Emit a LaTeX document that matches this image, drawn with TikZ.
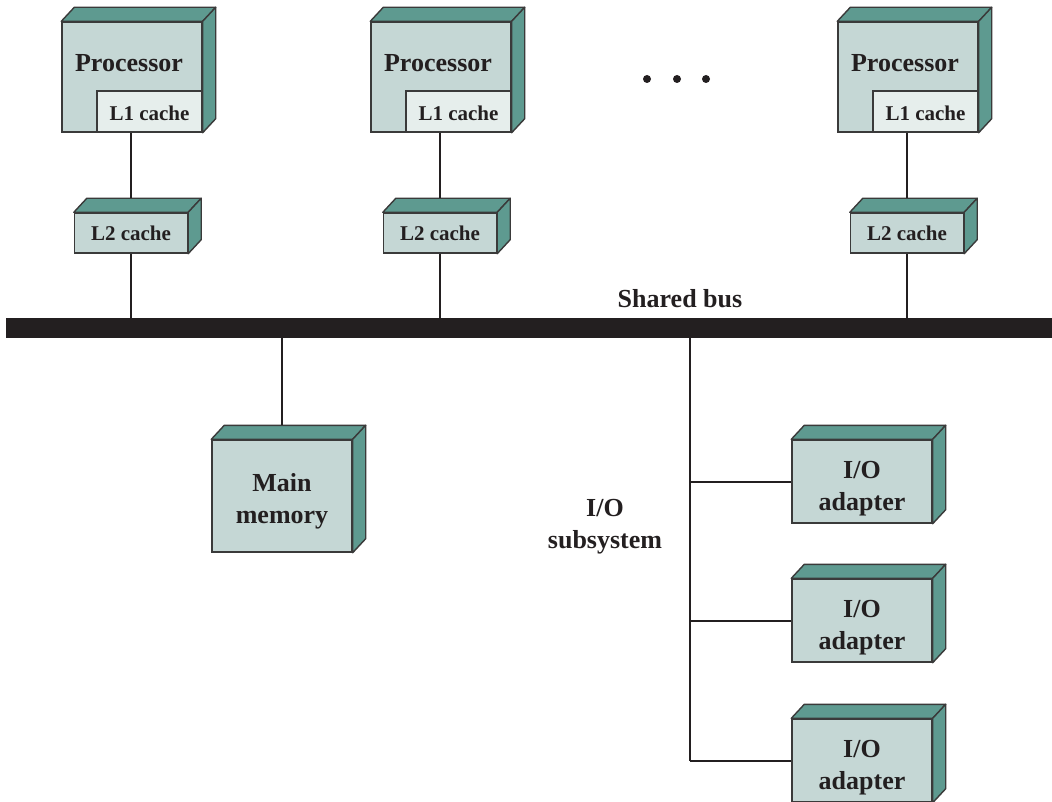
\documentclass[tikz,border=0pt]{standalone}
\usepackage{fontspec}
\setmainfont{Liberation Serif}
\usetikzlibrary{calc}
\definecolor{frontc}{HTML}{C5D7D5}
\definecolor{sidec}{HTML}{5E9A90}
\definecolor{lonec}{HTML}{E6EEEC}
\definecolor{edgec}{HTML}{3A3A3A}
\definecolor{linec}{HTML}{231F20}
\tikzset{
  face/.style={draw=edgec, line width=1.4pt, fill=frontc, inner sep=0pt},
  sidef/.style={draw=edgec, line width=1.4pt, fill=sidec, line join=round},
  lone/.style={draw=edgec, line width=1.4pt, fill=lonec, inner sep=0pt},
  link/.style={line width=2pt, draw=linec},
  big/.style={font=\bfseries\fontsize{26}{32}\selectfont, align=center, text=linec},
  small/.style={font=\bfseries\fontsize{21}{25}\selectfont, text=linec},
  busbar/.style={fill=linec, inner sep=0pt, minimum width=1046pt, minimum height=20pt},
  dotc/.style={circle, fill=linec, inner sep=0pt, minimum size=8pt},
}
\newcommand{\cubebox}[8]{% name, cx, cy, w, h, text, text style, text shift
  \node[face, minimum width=#4pt, minimum height=#5pt] (#1) at (#2,#3) {};
  \filldraw[sidef] (#1.north west) -- ++(13pt,14pt) -- ($(#1.north east)+(13pt,14pt)$) -- (#1.north east) -- cycle;
  \filldraw[sidef] (#1.north east) -- ++(13pt,14pt) -- ($(#1.south east)+(13pt,14pt)$) -- (#1.south east) -- cycle;
  \node[#7, yshift=#8] (#1t) at (#1.center) {#6};
}
\newcommand{\procbox}[3]{% name, left x, L2 name
  \cubebox{#1}{#2+70}{77}{140}{110}{}{small}{0pt}
  \node[lone, minimum width=105pt, minimum height=41pt] (#1l1) at (#2+87.5,111.5) {};
  \node[small, yshift=-1.5pt] (#1l1t) at (#1l1) {L1 cache};
  \node[big] (#1lbl) at (#2+67,63) {Processor};
  \cubebox{#3}{#2+69}{233}{113}{40}{L2 cache}{small}{-0.5pt}
}
\begin{document}
\begin{tikzpicture}[x=1pt,y=-1pt]
\useasboundingbox (0,0) rectangle (1052,802);
\node[busbar] (bus) at (529,328) {};
\node[big, anchor=base] (buslbl) at (680,308) {Shared bus};

\procbox{pa}{62}{la}
\procbox{pb}{371}{lb}
\procbox{pc}{838}{lc}

\node[dotc] (d1) at (647,79) {};
\node[dotc] (d2) at (677,79) {};
\node[dotc] (d3) at (706,79) {};

\foreach \p/\l in {pa/la, pb/lb, pc/lc}{
  \draw[link] (\l.north |- \p.south) -- ($(\l.north)+(0,14pt)$);
  \draw[link] (\l.south) -- (\l.south |- bus.north);
}

\cubebox{mem}{282}{496}{140}{112}{Main\\memory}{big}{-5pt}
\draw[link] (mem.north |- bus.south) -- ($(mem.north)+(0,14pt)$);

\cubebox{ioa}{862}{481.5}{140}{83}{I/O\\adapter}{big}{-7pt}
\cubebox{iob}{862}{620.5}{140}{83}{I/O\\adapter}{big}{-7pt}
\cubebox{ioc}{862}{760.5}{140}{83}{I/O\\adapter}{big}{-7pt}

\coordinate (iotap) at (690,0);
\draw[link] (iotap |- bus.south) -- (iotap |- ioc.west);
\draw[link] (iotap |- ioa.west) -- (ioa.west);
\draw[link] (iotap |- iob.west) -- (iob.west);
\draw[link] (iotap |- ioc.west) -- (ioc.west);

\node[big] (iolbl) at (605,527) {I/O\\subsystem};
\end{tikzpicture}
\end{document}
